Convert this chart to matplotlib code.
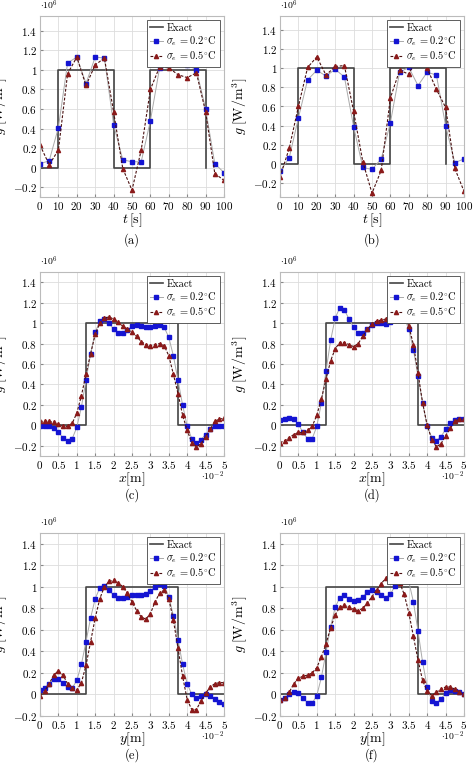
import numpy as np
import matplotlib
matplotlib.use("Agg")
import matplotlib.pyplot as plt
from matplotlib.ticker import FuncFormatter, MultipleLocator

plt.rcParams['mathtext.fontset'] = 'cm'
plt.rcParams['font.family'] = ['cmr10', 'DejaVu Serif']
plt.rcParams['axes.formatter.use_mathtext'] = True

t = list(range(0, 101, 5))
a_blue = [0.04,0.07,0.41,1.07,1.13,0.86,1.13,1.12,0.44,0.08,0.06,0.06,0.48,1.02,1.16,1.07,1.05,1.0,0.6,0.04,-0.05]
a_red = [0.23,0.03,0.18,0.96,1.13,0.84,1.05,1.12,0.57,-0.01,-0.23,0.18,0.8,1.03,1.02,0.95,0.92,0.97,0.57,-0.06,-0.13]
b_blue = [-0.08,0.06,0.48,0.88,0.98,0.92,0.99,0.91,0.39,-0.04,-0.06,0.05,0.43,0.96,1.01,0.82,0.96,0.93,0.4,0.01,0.05]
b_red = [-0.14,0.16,0.6,1.01,1.12,0.93,1.02,1.03,0.55,0.02,-0.31,-0.07,0.69,0.98,0.94,1.13,1.0,0.78,0.59,-0.05,-0.29]
t_exact = [0, 10, 10, 40, 40, 60, 60, 90, 90]
g_exact_t = [0, 0, 1, 1, 0, 0, 1, 1, 0]

x = [i * 0.125 for i in range(41)]
c_blue = [-0.01,-0.01,-0.01,-0.03,-0.07,-0.12,-0.15,-0.13,-0.02,0.18,0.44,0.70,0.91,1.02,1.04,1.0,0.94,0.9,0.9,0.93,0.97,0.98,0.97,0.96,0.96,0.97,0.98,0.96,0.86,0.68,0.44,0.2,-0.01,-0.13,-0.17,-0.14,-0.09,-0.04,-0.01,-0.01,-0.01]
c_red = [0.04,0.04,0.04,0.03,0.01,-0.01,-0.01,0.02,0.12,0.29,0.5,0.7,0.89,1.0,1.05,1.06,1.04,1.01,0.97,0.94,0.91,0.87,0.82,0.79,0.78,0.79,0.8,0.78,0.68,0.5,0.31,0.1,-0.05,-0.17,-0.21,-0.18,-0.11,-0.04,0.04,0.06,0.07]
d_blue = [0.05,0.06,0.07,0.06,0.01,-0.07,-0.13,-0.13,-0.01,0.22,0.53,0.83,1.05,1.15,1.13,1.04,0.96,0.9,0.9,0.94,0.98,1.0,1.0,0.99,1.01,1.04,1.07,1.05,0.94,0.74,0.48,0.22,-0.01,-0.12,-0.15,-0.11,-0.04,0.02,0.05,0.06,0.06]
d_red = [-0.17,-0.15,-0.12,-0.09,-0.07,-0.07,-0.05,-0.01,0.1,0.26,0.45,0.63,0.75,0.81,0.81,0.79,0.77,0.8,0.87,0.94,0.99,1.02,1.03,1.04,1.07,1.1,1.13,1.1,0.97,0.79,0.51,0.22,0.0,-0.14,-0.21,-0.18,-0.1,-0.03,0.04,0.06,0.06]
e_blue = [0.04,0.06,0.1,0.14,0.14,0.11,0.07,0.06,0.13,0.28,0.49,0.71,0.89,0.99,1.01,0.97,0.92,0.9,0.9,0.91,0.92,0.92,0.92,0.93,0.96,1.0,1.03,1.01,0.91,0.73,0.51,0.28,0.1,0.0,-0.03,-0.01,0.0,-0.01,-0.04,-0.07,-0.09]
e_red = [-0.01,0.03,0.1,0.18,0.22,0.18,0.1,0.06,0.04,0.11,0.27,0.49,0.71,0.89,1.0,1.05,1.06,1.04,1.0,0.94,0.86,0.78,0.72,0.7,0.75,0.86,0.94,0.97,0.89,0.69,0.43,0.17,-0.05,-0.14,-0.14,-0.06,0.01,0.07,0.1,0.11,0.11]
f_blue = [-0.05,-0.03,0.0,0.02,0.01,-0.03,-0.08,-0.08,-0.01,0.16,0.39,0.63,0.81,0.9,0.92,0.89,0.87,0.88,0.91,0.95,0.97,0.95,0.92,0.9,0.93,1.01,1.09,1.12,1.05,0.86,0.59,0.3,0.07,-0.06,-0.08,-0.04,0.01,0.04,0.03,0.02,0.0]
f_red = [-0.05,-0.03,0.02,0.1,0.15,0.17,0.18,0.2,0.25,0.35,0.47,0.62,0.74,0.81,0.83,0.81,0.79,0.78,0.8,0.85,0.91,0.97,1.03,1.08,1.1,1.09,1.04,0.93,0.76,0.54,0.32,0.13,0.03,-0.01,0.02,0.05,0.07,0.07,0.05,0.02,0.0]
x_exact = [0, 1.25, 1.25, 3.75, 3.75, 5]
g_exact_x = [0, 0, 1, 1, 0, 0]

panels = [
    ('(a)', t, a_blue, a_red, t_exact, g_exact_t, r'$t\,[\mathrm{s}]$', (0, 100), (-0.3, 1.55), False),
    ('(b)', t, b_blue, b_red, t_exact, g_exact_t, r'$t\,[\mathrm{s}]$', (0, 100), (-0.35, 1.55), False),
    ('(c)', x, c_blue, c_red, x_exact, g_exact_x, r'$x[\mathrm{m}]$', (0, 5), (-0.3, 1.5), True),
    ('(d)', x, d_blue, d_red, x_exact, g_exact_x, r'$x[\mathrm{m}]$', (0, 5), (-0.3, 1.5), True),
    ('(e)', x, e_blue, e_red, x_exact, g_exact_x, r'$y[\mathrm{m}]$', (0, 5), (-0.2, 1.5), True),
    ('(f)', x, f_blue, f_red, x_exact, g_exact_x, r'$y[\mathrm{m}]$', (0, 5), (-0.2, 1.5), True),
]

W, H = 474, 771
fig = plt.figure(figsize=(W/100, H/100), dpi=100)
lefts = [40, 280]
rows = [(16, 197), (272, 456), (533, 716)]
labely = [240, 495, 755]
fmt = FuncFormatter(lambda v, p: f'${v:g}$')

for i, (lab, xs, yb, yr, xe, ge, xl, xlim, ylim, spatial) in enumerate(panels):
    r, c = divmod(i, 2)
    top, bot = rows[r]
    l = lefts[c]
    ax = fig.add_axes([l/W, 1-bot/H, 184/W, (bot-top)/H])
    ax.plot(xe, ge, color='#444444', lw=1.2, label='Exact')
    ax.plot(xs, yb, color='#aaaaaa', lw=0.7, marker='s', ms=3.5, mfc='#1414d2', mec='#1414d2',
            label=r'$\sigma_e\,=0.2^{\circ}\mathrm{C}$')
    ax.plot(xs, yr, color='#4a1010', lw=0.8, ls=(0, (2.5, 1.5)), marker='^', ms=3, mfc='#8b1a1a', mec='#8b1a1a',
            label=r'$\sigma_e\,=0.5^{\circ}\mathrm{C}$')
    ax.set_xlim(*xlim); ax.set_ylim(*ylim)
    ax.xaxis.set_major_locator(MultipleLocator(10 if not spatial else 0.5))
    ax.yaxis.set_major_locator(MultipleLocator(0.2))
    ax.xaxis.set_major_formatter(fmt); ax.yaxis.set_major_formatter(fmt)
    ax.grid(True, color='#dddddd', lw=0.6)
    ax.tick_params(labelsize=8, length=2, direction='in', color='#888888', pad=2)
    for s in ax.spines.values():
        s.set_color('#bbbbbb')
    ax.set_xlabel(xl, fontsize=10, labelpad=0)
    ax.set_ylabel(r'$g\;[\mathrm{W/m^3}]$', fontsize=10)
    ax.yaxis.set_label_coords(-0.165, 0.5)
    ax.text(0.0, 1.02, r'$\cdot 10^{6}$', transform=ax.transAxes, fontsize=7, ha='left', va='bottom')
    if spatial:
        ax.text(1.0, -0.075, r'$\cdot 10^{-2}$', transform=ax.transAxes, fontsize=7, ha='right', va='top')
    leg = ax.legend(loc='upper right', fontsize=7.5, frameon=True, fancybox=False, framealpha=1,
                    handlelength=1.3, handletextpad=0.3, borderpad=0.3, labelspacing=0.15, borderaxespad=0.4)
    leg.get_frame().set_edgecolor('#444444'); leg.get_frame().set_linewidth(0.6)
    fig.text((l + 92)/W, 1 - labely[r]/H, lab, ha='center', va='center', fontsize=9)

fig.savefig('out.png', dpi=100)
